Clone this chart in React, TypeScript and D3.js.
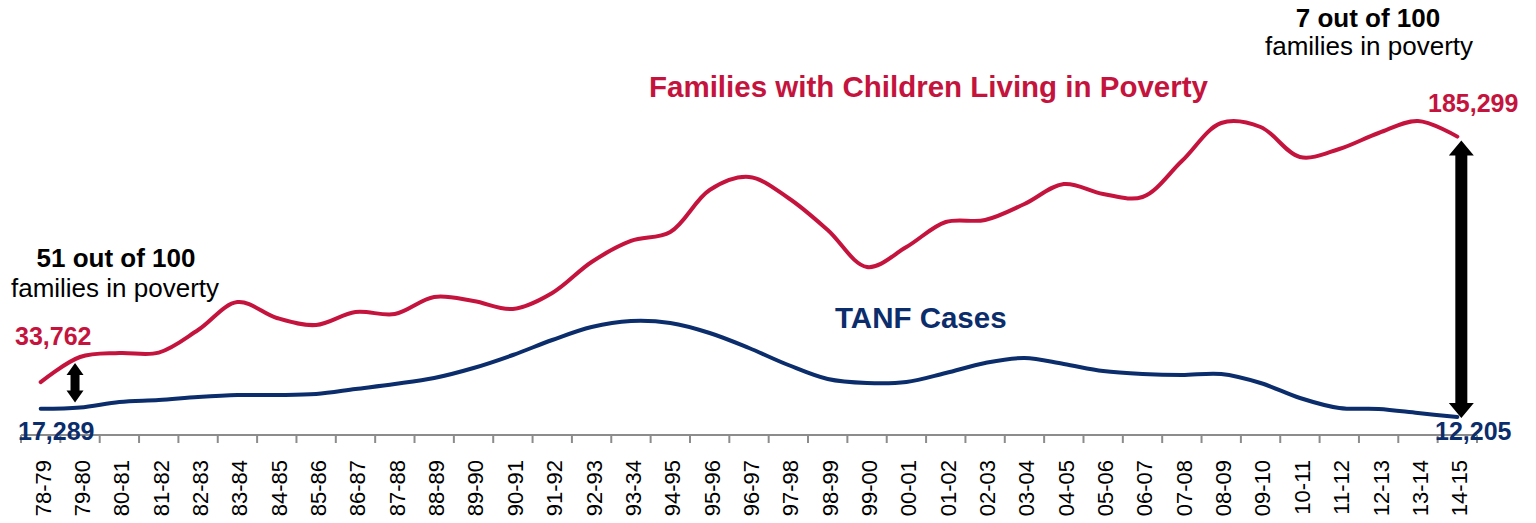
import React from "react";
import * as d3 from "d3";

const categories = [
  "78-79","79-80","80-81","81-82","82-83","83-84","84-85","85-86","86-87","87-88",
  "88-89","89-90","90-91","91-92","92-93","93-34","94-95","95-96","96-97","97-98",
  "98-99","99-00","00-01","01-02","02-03","03-04","04-05","05-06","06-07","07-08",
  "08-09","09-10","10-11","11-12","12-13","13-14","14-15",
];

const povertyFamilies = [
  33762, 49260, 51730, 52000, 65930, 83210, 73340, 69010, 77040, 75800,
  86300, 83830, 78890, 88770, 107900, 120870, 126420, 152350, 160370, 147410,
  127650, 104820, 117160, 132590, 133830, 143700, 156050, 149880, 148030, 170250,
  193700, 191240, 172720, 177650, 187530, 194940, 185299,
];

const tanfCases = [
  17289, 18090, 21480, 22720, 24570, 25800, 25800, 26420, 29500, 32590,
  36300, 42470, 50490, 59750, 67780, 71480, 70250, 64080, 54810, 44320,
  35680, 33210, 33830, 39380, 45560, 48640, 44940, 40620, 38770, 38150,
  38770, 33210, 23950, 17780, 17160, 14690, 12205,
];

const W = 1536;
const H = 523;
const RED = "#C4143E";
const NAVY = "#0B2D6B";
const FONT = "'Liberation Sans', Arial, sans-serif";

function arrowPath(x: number, yTop: number, yBot: number, headW: number, headL: number, shaftW: number) {
  const hw = headW / 2;
  const sw = shaftW / 2;
  const pts: [number, number][] = [
    [x, yTop],
    [x + hw, yTop + headL],
    [x + sw, yTop + headL],
    [x + sw, yBot - headL],
    [x + hw, yBot - headL],
    [x, yBot],
    [x - hw, yBot - headL],
    [x - sw, yBot - headL],
    [x - sw, yTop + headL],
    [x - hw, yTop + headL],
  ];
  return "M" + pts.map((p) => p.join(",")).join("L") + "Z";
}

export default function App() {
  const axisY = 435;
  const x = d3.scaleBand<string>().domain(categories).range([21, 1477]).padding(0);
  const y = d3.scaleLinear().domain([0, 250000]).range([436.8, 436.8 - 250000 * 0.00162]);
  const cx = (c: string) => (x(c) as number) + x.bandwidth() / 2;

  const line = d3
    .line<number>()
    .x((_, i) => cx(categories[i]))
    .y((d) => y(d))
    .curve(d3.curveCatmullRom.alpha(0.5));

  const n = categories.length;
  const boundaries = d3.range(n + 1).map((i) => 21 + i * x.bandwidth());

  const last = categories[n - 1];
  const second = categories[1];

  return (
    <div style={{ position: "absolute", left: 0, top: 0 }}>
      <svg width={W} height={H} style={{ display: "block", background: "#fff" }}>
        {/* axis */}
        <line x1={21} x2={1477} y1={axisY} y2={axisY} stroke="#8c8c8c" strokeWidth={2} />
        {boundaries.map((b, i) => (
          <line key={i} x1={b} x2={b} y1={axisY} y2={axisY + 8} stroke="#8c8c8c" strokeWidth={2} />
        ))}
        {categories.map((c) => (
          <text
            key={c}
            transform={`translate(${cx(c) + 2},460) rotate(-90)`}
            textAnchor="end"
            dy="0.36em"
            fontFamily={FONT}
            fontSize={22}
            fill="#000"
          >
            {c}
          </text>
        ))}

        {/* lines */}
        <path d={line(povertyFamilies) || ""} fill="none" stroke={RED} strokeWidth={4} strokeLinecap="round" />
        <path d={line(tanfCases) || ""} fill="none" stroke={NAVY} strokeWidth={4} strokeLinecap="round" />

        {/* series titles */}
        <text x={649} y={97} fontFamily={FONT} fontSize={29.5} fontWeight="bold" fill={RED}>
          Families with Children Living in Poverty
        </text>
        <text x={835} y={328} fontFamily={FONT} fontSize={29.5} fontWeight="bold" fill={NAVY}>
          TANF Cases
        </text>

        {/* value labels */}
        <text x={15} y={345} fontFamily={FONT} fontSize={25} fontWeight="bold" fill={RED}>
          {d3.format(",")(povertyFamilies[0])}
        </text>
        <text x={18} y={440} fontFamily={FONT} fontSize={25} fontWeight="bold" fill={NAVY}>
          {d3.format(",")(tanfCases[0])}
        </text>
        <text x={1428} y={112} fontFamily={FONT} fontSize={25} fontWeight="bold" fill={RED}>
          {d3.format(",")(povertyFamilies[n - 1])}
        </text>
        <text x={1435} y={440} fontFamily={FONT} fontSize={25} fontWeight="bold" fill={NAVY}>
          {d3.format(",")(tanfCases[n - 1])}
        </text>

        {/* annotations */}
        <text x={116} y={267} textAnchor="middle" fontFamily={FONT} fontSize={26} fontWeight="bold" fill="#000">
          51 out of 100
        </text>
        <text x={115} y={297} textAnchor="middle" fontFamily={FONT} fontSize={26} fill="#000">
          families in poverty
        </text>
        <text x={1368} y={27} textAnchor="middle" fontFamily={FONT} fontSize={26} fontWeight="bold" fill="#000">
          7 out of 100
        </text>
        <text x={1369} y={55} textAnchor="middle" fontFamily={FONT} fontSize={26} fill="#000">
          families in poverty
        </text>

        {/* arrows */}
        <path
          d={arrowPath(cx(second) - 5, y(povertyFamilies[1]) + 6, y(tanfCases[1]) - 5, 17, 12, 9)}
          fill="#000"
        />
        <path
          d={arrowPath(cx(last) + 4, y(povertyFamilies[n - 1]) + 4, y(tanfCases[n - 1]) + 1, 25, 15, 12)}
          fill="#000"
        />
      </svg>
    </div>
  );
}
